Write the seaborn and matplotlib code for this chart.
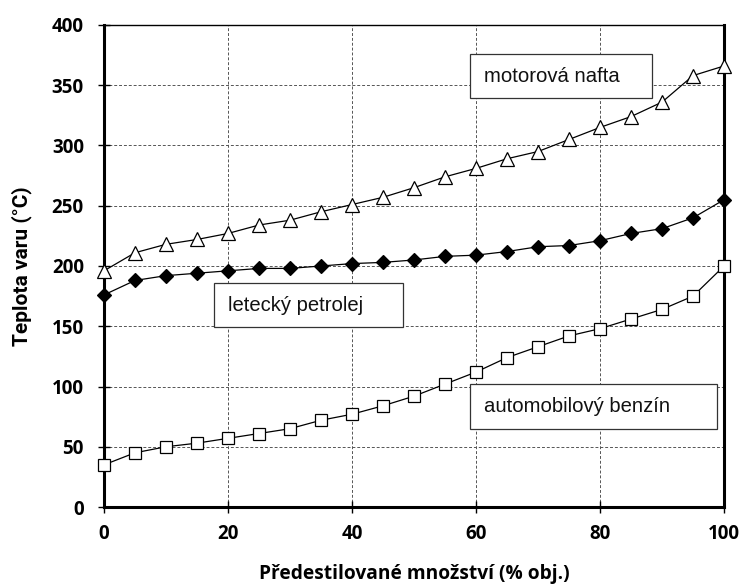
import matplotlib.pyplot as plt
import matplotlib.patches as mpatches
import seaborn as sns
import pandas as pd

podil = [0, 5, 10, 15, 20, 25, 30, 35, 40, 45, 50,
         55, 60, 65, 70, 75, 80, 85, 90, 95, 100]

nafta = [196, 211, 218, 222, 227, 234, 238, 245, 251, 257, 265,
         274, 281, 289, 295, 305, 315, 324, 336, 358, 366]

petrolej = [176, 188, 192, 194, 196, 198, 198, 200, 202, 203, 205,
            208, 209, 212, 216, 217, 221, 227, 231, 240, 255]

benzin = [35, 45, 50, 53, 57, 61, 65, 72, 77, 84, 92,
          102, 112, 124, 133, 142, 148, 156, 164, 175, 200]

x_ticks = [0, 20, 40, 60, 80, 100]
y_ticks = [0, 50, 100, 150, 200, 250, 300, 350, 400]

labels = ["motorová nafta", "letecký petrolej", "automobilový benzín"]


def make_frame():
    """
    Long-form table of all three curves.
    """

    rows = []
    for name, values in zip(labels, [nafta, petrolej, benzin]):
        for x, y in zip(podil, values):
            rows.append({"podil": x, "teplota": y, "palivo": name})
    return pd.DataFrame(rows)


def plot_destilace(df):
    """
    Distillation curves with boxed labels.
    """

    sns.set_style("white")
    plt.rcParams["font.family"] = ["Liberation Sans", "DejaVu Sans"]

    fig = plt.figure(figsize=(7.48, 5.85), dpi=100)
    ax = fig.add_axes([0.139, 0.1333, 0.829, 0.824])

    styles = {
        "motorová nafta": dict(marker="^", markerfacecolor="white", markersize=10.5),
        "letecký petrolej": dict(marker="D", markerfacecolor="black", markersize=7),
        "automobilový benzín": dict(marker="s", markerfacecolor="white", markersize=9),
    }

    for name in labels:
        sns.lineplot(
            data=df[df["palivo"] == name],
            x="podil",
            y="teplota",
            color="black",
            linewidth=0.9,
            markeredgecolor="black",
            markeredgewidth=0.9,
            ax=ax,
            zorder=3,
            clip_on=False,
            **styles[name]
        )

    ax.set_xlim(0, 100)
    ax.set_ylim(0, 400)
    ax.set_xticks(x_ticks)
    ax.set_yticks(y_ticks)

    ax.grid(True, color="#555555", linestyle=(0, (3, 2)), linewidth=0.7)
    ax.set_axisbelow(True)

    for side in ["left", "right", "top", "bottom"]:
        ax.spines[side].set_color("black")
        ax.spines[side].set_linewidth(2.2 if side != "top" else 1.0)

    ax.tick_params(axis="both", direction="inout", length=9, width=1,
                   colors="black", bottom=True, left=True)
    ax.tick_params(axis="y", pad=10)
    ax.tick_params(axis="x", pad=8)
    for lab in ax.get_xticklabels() + ax.get_yticklabels():
        lab.set_fontweight("bold")
        lab.set_fontfamily("Open Sans")
        lab.set_fontsize(13.5)

    ax.set_xlabel("Předestilované množství (% obj.)", fontsize=13.8,
                  fontweight="bold", family="Open Sans", labelpad=14,
                  color="black")
    ax.set_ylabel("Teplota varu (°C)", fontsize=15,
                  fontweight="bold", family="Roboto", labelpad=14,
                  color="black")

    # boxed labels: (x0, y0, width, height) in data units
    boxes = [
        ("motorová nafta", 59.0, 339, 29.4, 37),
        ("letecký petrolej", 17.7, 149, 30.5, 37),
        ("automobilový benzín", 59.0, 65, 39.9, 37),
    ]
    for text, x0, y0, w, h in boxes:
        ax.add_patch(mpatches.Rectangle(
            (x0, y0), w, h, facecolor="white", edgecolor="#333333",
            linewidth=0.9, zorder=4
        ))
        ax.text(x0 + 2.3, y0 + h / 2, text, fontsize=14.6, va="center",
                ha="left", color="#111111", zorder=5)

    plt.savefig("out.png", dpi=100)
    plt.close()


plot_destilace(make_frame())
